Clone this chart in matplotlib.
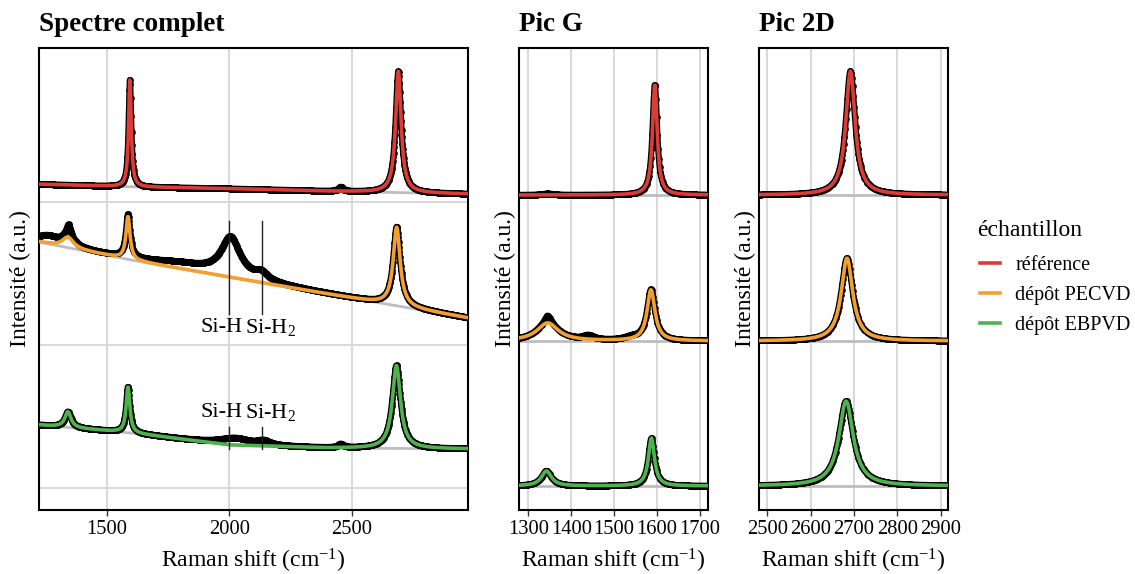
import numpy as np
import matplotlib
matplotlib.use("Agg")
import matplotlib.pyplot as plt
from matplotlib.lines import Line2D

plt.rcParams["font.family"] = ["Liberation Serif", "DejaVu Serif"]
plt.rcParams["mathtext.fontset"] = "custom"
plt.rcParams["mathtext.rm"] = "Liberation Serif"
plt.rcParams["mathtext.it"] = "Liberation Serif:italic"

SAMPLES = ["référence", "dépôt PECVD", "dépôt EBPVD"]
COLORS = ["#dc3b36", "#f4a030", "#4db44d"]

# baselines of the full spectrum, (shift, intensity) knots
FULL_BASE_X = [1224, 1600, 2000, 2400, 2974]
FULL_BASE = [
    [2.125, 2.106, 2.094, 2.076, 2.056],   # référence
    [1.720, 1.594, 1.475, 1.357, 1.189],   # PECVD
    [0.441, 0.385, 0.301, 0.280, 0.273],   # EBPVD
]
# fitted peaks: position, height, FWHM
FULL_PEAKS = [
    [(1595, 0.75, 13), (2690, 0.85, 27)],
    [(1342, 0.074, 55), (1587, 0.30, 20), (2683, 0.55, 34)],
    [(1342, 0.11, 30), (1587, 0.32, 18), (2682, 0.58, 40)],
]
# features present in the measured data but not in the fit
FULL_EXTRA = [
    [(2455, 0.03, 22)],
    [(1260, 0.05, 110), (1345, 0.07, 18), (1800, 0.035, 300),
     (2005, 0.27, 95), (2130, 0.05, 60)],
    [(2020, 0.05, 150), (2140, 0.03, 60), (2455, 0.025, 25)],
]

G_OFFSETS = [2.049, 1.028, 0.014]
G_PEAKS = [
    [(1595, 0.78, 13)],
    [(1345, 0.126, 60), (1586, 0.357, 22)],
    [(1342, 0.105, 28), (1587, 0.336, 17)],
]
G_EXTRA = [
    [(1345, 0.01, 30)],
    [(1345, 0.05, 15), (1440, 0.03, 30), (1540, 0.02, 40)],
    [],
]

D2_OFFSETS = [2.049, 1.028, 0.014]
D2_PEAKS = [
    [(2692, 0.867, 26)],
    [(2684, 0.58, 32)],
    [(2682, 0.594, 40)],
]
D2_EXTRA = [[], [], []]

ANNOT_X = [2000, 2135]
ANNOT_Y = [(1.87, 1.215), (0.428, 0.27)]
ANNOT_TEXT_Y = [1.125, 0.525]

YLIM = (-0.154, 3.077)
STEP = 1.7


def lorentz(x, peaks):
    y = np.zeros_like(x)
    for x0, h, w in peaks:
        y += h / (1 + ((x - x0) / (w / 2)) ** 2)
    return y


def draw_panel(ax, xlim, base_fn, peaks, extra):
    x = np.arange(xlim[0], xlim[1] + STEP, STEP)
    for i in range(3):
        base = base_fn(i, x)
        fit = base + lorentz(x, peaks[i])
        data = fit + lorentz(x, extra[i])
        ax.plot(x, base, color="#bdbdbd", lw=2, zorder=2)
        ax.plot(x, data, color="black", lw=4.4, marker="o", ms=3.8,
                markevery=1, zorder=3)
        ax.plot(x, fit, color=COLORS[i], lw=2.6, zorder=4)
    ax.set_xlim(xlim)
    ax.set_ylim(YLIM)
    ax.set_yticklabels([])
    ax.tick_params(axis="y", length=0)
    ax.tick_params(axis="x", labelsize=14.8, length=4, width=1, color="#333333",
                   pad=3)
    ax.grid(True, color="#d6d6d6", lw=1.3)
    ax.set_axisbelow(True)
    for s in ax.spines.values():
        s.set_linewidth(1.5)
    ax.set_xlabel("Raman shift (cm$^{-1}$)", fontsize=17, labelpad=6)
    ax.set_ylabel("Intensité (a.u.)", fontsize=17, labelpad=2)


def main():
    fig = plt.figure(figsize=(11.35, 5.74), dpi=100)
    ax1 = fig.add_axes([39 / 1135, 64 / 574, 429 / 1135, 462 / 574])
    ax2 = fig.add_axes([519 / 1135, 64 / 574, 189 / 1135, 462 / 574])
    ax3 = fig.add_axes([759 / 1135, 64 / 574, 189 / 1135, 462 / 574])

    draw_panel(ax1, (1224, 2974),
               lambda i, x: np.interp(x, FULL_BASE_X, FULL_BASE[i]),
               FULL_PEAKS, FULL_EXTRA)
    ax1.set_xticks([1500, 2000, 2500])
    ax1.set_yticks([0, 1, 2])

    draw_panel(ax2, (1278, 1719),
               lambda i, x: np.full_like(x, G_OFFSETS[i]),
               G_PEAKS, G_EXTRA)
    ax2.set_xticks([1300, 1400, 1500, 1600, 1700])
    ax2.set_yticks([])
    ax2.grid(False, axis="y")

    draw_panel(ax3, (2481, 2917),
               lambda i, x: np.full_like(x, D2_OFFSETS[i]),
               D2_PEAKS, D2_EXTRA)
    ax3.set_xticks([2500, 2600, 2700, 2800, 2900])
    ax3.set_yticks([])
    ax3.grid(False, axis="y")

    # Si-H annotations
    for (top, bot), ty in zip(ANNOT_Y, ANNOT_TEXT_Y):
        for xa in ANNOT_X:
            ax1.plot([xa, xa], [bot, top], color="#222222", lw=1, zorder=5)
        ax1.text(1970, ty, "Si-H", ha="center", va="center", fontsize=16, zorder=6)
        ax1.text(2168, ty, "Si-H$_2$", ha="center", va="center", fontsize=16, zorder=6)

    for ax, title in zip([ax1, ax2, ax3], ["Spectre complet", "Pic G", "Pic 2D"]):
        ax.set_title(title, loc="left", fontsize=19.5, fontweight="bold", pad=12)

    # legend: title as separate text to get the larger gap
    fig.text(977 / 1135, 1 - 231 / 574, "échantillon", fontsize=17,
             ha="left", va="center")
    handles = [Line2D([], [], color=c, lw=2.6) for c in COLORS]
    fig.legend(handles, SAMPLES, loc="upper left",
               bbox_to_anchor=(980 / 1135, 1 - 256 / 574), frameon=False,
               fontsize=14.5, handlelength=1.0, handletextpad=0.75,
               labelspacing=0.55, borderpad=0, borderaxespad=0)

    fig.savefig("out.png", dpi=100)
    plt.close(fig)


if __name__ == "__main__":
    main()
